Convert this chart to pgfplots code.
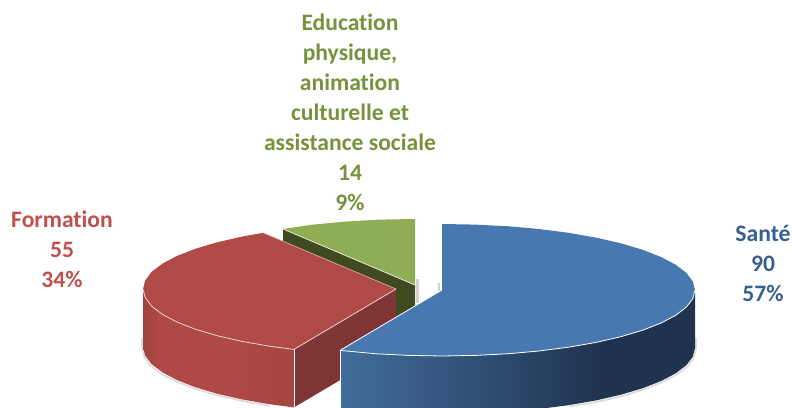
\documentclass[border=0pt]{standalone}
\usepackage{pgfplots}
\pgfplotsset{compat=1.18}
\usepackage{fontspec}
\setmainfont[Ligatures=NoCommon]{Carlito}

\definecolor{blueTop}{HTML}{4878B0}
\definecolor{blueA}{HTML}{426D9C}
\definecolor{blueB}{HTML}{2F4E73}
\definecolor{blueC}{HTML}{1F324F}
\definecolor{redTop}{HTML}{AF4A47}
\definecolor{redA}{HTML}{9E413E}
\definecolor{redB}{HTML}{AE4945}
\definecolor{redC}{HTML}{A64542}
\definecolor{redCut}{HTML}{7F3534}
\definecolor{greenTop}{HTML}{8FAD55}
\definecolor{greenCut}{HTML}{3F4A20}
\definecolor{txtBlue}{HTML}{376092}
\definecolor{txtRed}{HTML}{C0504D}
\definecolor{txtGreen}{HTML}{76923C}

% Rim shadings: the inner band 25bp--75bp spans the width of the filled path
\pgfdeclarehorizontalshading{blueRim}{100bp}{color(0bp)=(blueA); color(25bp)=(blueA); color(45bp)=(blueB); color(62bp)=(blueC); color(100bp)=(blueC)}
\pgfdeclarehorizontalshading{redRim}{100bp}{color(0bp)=(redA); color(25bp)=(redA); color(30bp)=(redB); color(55bp)=(redB); color(75bp)=(redC); color(100bp)=(redC)}

\begin{document}
\begin{tikzpicture}
\path[use as bounding box] (0,0) rectangle (792pt,407pt);
\begin{axis}[
  at={(0,0)}, anchor=south west,
  hide axis, scale only axis, width=792pt, height=407pt,
  xmin=0, xmax=792, ymin=0, ymax=407, y dir=reverse,
  clip=true, no markers, every axis plot/.append style={line join=round},
]
% soft shadow under the rims
\addplot[draw=gray!50, line width=1.8pt, opacity=.55] coordinates {(142,338)(142,347)(144.2,356.6)(150.6,365.6)(161.3,374)(176.4,381.5)(195.3,388.7)(217.1,395.2)(242,400.9)(269.5,405.7)};
\addplot[draw=gray!50, line width=1.8pt, opacity=.55] coordinates {(696,338)(696,348)(693.8,357.6)(687.4,366.6)(676.7,374.6)(661.6,382.4)(643.2,389.7)(621.4,396.2)(596.5,401.9)(569,406.7)};
% small shadow ticks in the gap between the slices
\addplot[draw=gray!35, line width=2.4pt] coordinates {(417.5,279)(417.5,303)};
\addplot[draw=gray!35, line width=2.4pt] coordinates {(439,283)(439,292)};

% Education physique, animation culturelle et assistance sociale: 14
\addplot[fill=greenCut, draw=none] coordinates {(283,229)(283,287)(415,343)(415,285)};
\addplot[fill=greenTop, draw=none] coordinates {(415,285)(415,219)(379.8,219.6)(345.3,221.6)(312.1,224.7)(283,229)};
\addplot[draw=white!85!greenTop, line width=.7pt] coordinates {(283,229)(415,285)};

% Formation: 55
\addplot[shading=redRim, draw=none] coordinates {(143,289)(145.2,297.6)(151.6,306.1)(162.3,314.3)(176.9,322)(195.3,329.2)(217.1,335.7)(242,341.4)(269.5,346.2)(294,349.4)(294,407.4)(269.5,404.2)(242,399.4)(217.1,393.7)(195.3,387.2)(176.9,380)(162.3,372.3)(151.6,364.1)(145.2,355.6)(143,347)};
\addplot[fill=redCut, draw=none] coordinates {(396,289)(294,349.4)(294,407.4)(396,347)};
\addplot[fill=redTop, draw=none] coordinates {(396,289)(263.1,232.8)(242,236.6)(217.1,242.3)(195.3,248.8)(176.9,256)(162.3,263.7)(151.6,271.9)(145.2,280.4)(143,289)(145.2,297.6)(151.6,306.1)(162.3,314.3)(176.9,322)(195.3,329.2)(217.1,335.7)(242,341.4)(269.5,346.2)(294,349.4)};
\addplot[draw=white!75!redTop, line width=.8pt] coordinates {(143,289)(145.2,297.6)(151.6,306.1)(162.3,314.3)(176.9,322)(195.3,329.2)(217.1,335.7)(242,341.4)(269.5,346.2)(294,349.4)(396,289)};
\addplot[draw=white!60!redTop, line width=.6pt] coordinates {(263.1,232.8)(396,289)};
\addplot[draw=white, line width=.7pt] coordinates {(294,349.4)(294,407.4)};

% Santé: 90
\addplot[shading=blueRim, draw=none] coordinates {(340,350.4)(376.5,353.8)(409,355.4)(442,356)(475,355.4)(507.5,353.8)(538.8,351)(568.5,347.2)(596,342.4)(620.9,336.7)(642.7,330.2)(661.1,323)(675.7,315.3)(686.4,307.1)(692.8,298.6)(695,290)(695,348)(692.8,356.6)(686.4,365.1)(675.7,373.3)(661.1,381)(642.7,388.2)(620.9,394.7)(596,400.4)(568.5,405.2)(538.8,409)(507.5,411.8)(475,413.4)(442,414)(409,413.4)(376.5,411.8)(340,408.4)};
\addplot[fill=blueTop, draw=none] coordinates {(442,290)(442,224)(475,224.6)(507.5,226.2)(538.8,229)(568.5,232.8)(596,237.6)(620.9,243.3)(642.7,249.8)(661.1,257)(675.7,264.7)(686.4,272.9)(692.8,281.4)(695,290)(692.8,298.6)(686.4,307.1)(675.7,315.3)(661.1,323)(642.7,330.2)(620.9,336.7)(596,342.4)(568.5,347.2)(538.8,351)(507.5,353.8)(475,355.4)(442,356)(409,355.4)(376.5,353.8)(340,350.4)};
\addplot[draw=white, line width=.8pt] coordinates {(442,290)(340,350.4)(376.5,353.8)(409,355.4)(442,356)(475,355.4)(507.5,353.8)(538.8,351)(568.5,347.2)(596,342.4)(620.9,336.7)(642.7,330.2)(661.1,323)(675.7,315.3)(686.4,307.1)(692.8,298.6)(695,290)};
\addplot[draw=white, line width=.7pt] coordinates {(340,350.4)(340,408.4)};

% Slice labels
\node[text=txtBlue, align=center, font=\fontsize{23.6}{30}\selectfont\bfseries] at (axis cs:763,263) {Santé\\90\\57\%};
\node[text=txtRed, align=center, font=\fontsize{23.6}{30}\selectfont\bfseries] at (axis cs:62,249) {Formation\\55\\34\%};
\node[text=txtGreen, align=center, font=\fontsize{23.6}{30}\selectfont\bfseries] at (axis cs:350,112.5) {Education\\physique,\\animation\\culturelle et\\assistance sociale\\14\\9\%};
\end{axis}
\end{tikzpicture}
\end{document}
